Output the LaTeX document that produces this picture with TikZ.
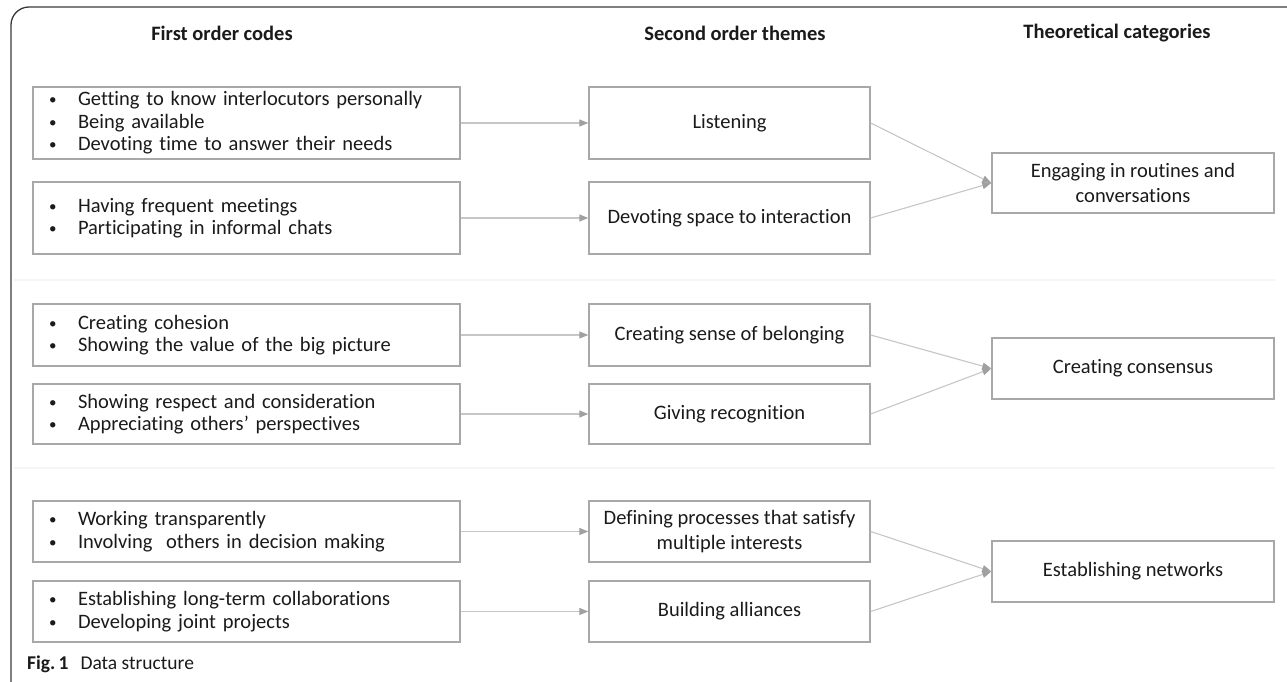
\documentclass[tikz,border=0pt]{standalone}
\usepackage{fontspec}
\setmainfont{Carlito}[Ligatures={NoCommon}]
\usetikzlibrary{arrows.meta}
\definecolor{boxgray}{HTML}{A8A8A8}
\definecolor{arrgray}{HTML}{C6C6C6}
\definecolor{headgray}{HTML}{A0A0A0}
\definecolor{txt}{HTML}{1A1A1A}
\definecolor{sepgray}{HTML}{F5F5F5}
\definecolor{framegray}{HTML}{3A3A3A}
\newcommand\codeitem[1]{\makebox[30pt][l]{\hspace{1pt}\raisebox{1pt}{\fontsize{15}{15}\selectfont\textbullet}}#1}
\begin{document}
\begin{tikzpicture}[x=1pt,y=-1pt,
  every node/.style={text=txt},
  bodyfont/.style={font=\fontsize{20.5}{22.5}\selectfont},
  codebox/.style={draw=boxgray, line width=1.4pt, text width=397pt, inner xsep=15pt, inner ysep=0pt, align=left, bodyfont},
  themebox/.style={draw=boxgray, line width=1.4pt, minimum width=281pt, inner sep=0pt, align=center, bodyfont},
  catbox/.style={draw=boxgray, line width=1.4pt, minimum width=282pt, inner sep=0pt, align=center, bodyfont},
  header/.style={font=\fontsize{20.5}{22}\selectfont\bfseries},
  link/.style={draw=arrgray, line width=1.1pt, -{Triangle[length=9pt,width=7pt,color=headgray]}},
  sepline/.style={draw=sepgray, line width=2pt},
  frameline/.style={draw=framegray, line width=1.3pt, rounded corners=18pt},
]
\useasboundingbox (0,0) rectangle (1287,682);

% frame
\draw[frameline] (11,700) -- (11,7) -- (1300,7);

% separators
\draw[sepline] (14,280) -- (1275,280);
\draw[sepline] (14,468) -- (1275,468);

% headers
\node[header] (h1) at (222,33) {First order codes};
\node[header] (h2) at (735,33) {Second order themes};
\node[header] (h3) at (1117,33) {Theoretical categories};

% first order codes
\node[codebox, minimum height=72pt] (c1) at (246.5,123) {\codeitem{Getting to know interlocutors personally}\\ \codeitem{Being available}\\ \codeitem{Devoting time to answer their needs}};
\node[codebox, minimum height=72pt] (c2) at (246.5,218) {\codeitem{Having frequent meetings}\\ \codeitem{Participating in informal chats}};
\node[codebox, minimum height=62pt] (c3) at (246.5,335) {\codeitem{Creating cohesion}\\ \codeitem{Showing the value of the big picture}};
\node[codebox, minimum height=60pt] (c4) at (246.5,414) {\codeitem{Showing respect and consideration}\\ \codeitem{Appreciating others’ perspectives}};
\node[codebox, minimum height=61pt] (c5) at (246.5,531.5) {\codeitem{Working transparently}\\ \codeitem{Involving\ \ others in decision making}};
\node[codebox, minimum height=61pt] (c6) at (246.5,611.5) {\codeitem{Establishing long-term collaborations}\\ \codeitem{Developing joint projects}};

% second order themes
\node[themebox, minimum height=72pt] (t1) at (729.5,123) {Listening};
\node[themebox, minimum height=72pt] (t2) at (729.5,218) {Devoting space to interaction};
\node[themebox, minimum height=62pt] (t3) at (729.5,335) {Creating sense of belonging};
\node[themebox, minimum height=60pt] (t4) at (729.5,414) {Giving recognition};
\node[themebox, minimum height=61pt, font=\fontsize{20.5}{25}\selectfont] (t5) at (729.5,531.5) {Defining processes that satisfy\\multiple interests};
\node[themebox, minimum height=61pt] (t6) at (729.5,611.5) {Building alliances};

% theoretical categories
\node[catbox, minimum height=60pt, font=\fontsize{20.5}{25}\selectfont] (k1) at (1133,183) {Engaging in routines and\\conversations};
\node[catbox, minimum height=61pt] (k2) at (1133,368.5) {Creating consensus};
\node[catbox, minimum height=61pt] (k3) at (1133,571.5) {Establishing networks};

% links
\foreach \i in {1,...,6} {\draw[link] (c\i) -- (t\i);}
\draw[link] (t1.east) -- (k1.west);
\draw[link] (t2.east) -- (k1.west);
\draw[link] (t3.east) -- (k2.west);
\draw[link] (t4.east) -- (k2.west);
\draw[link] (t5.east) -- (k3.west);
\draw[link] (t6.east) -- (k3.west);

% caption
\node[anchor=base west, inner sep=0pt, font=\fontsize{19.5}{22}\selectfont] (cap) at (27,669) {\textbf{Fig.\,1}\hspace{12pt}Data structure};
\end{tikzpicture}
\end{document}
